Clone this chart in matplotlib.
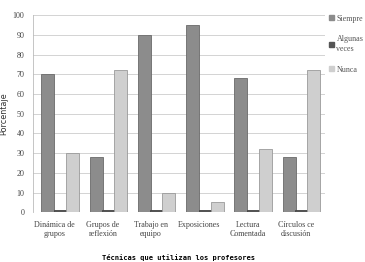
import matplotlib.pyplot as plt
from matplotlib.patches import Patch

tecnicas = ["Dinámica de\ngrupos", "Grupos de\nreflexión", "Trabajo en\nequipo",
            "Exposiciones", "Lectura\nComentada", "Círculos ce\ndiscusión"]
siempre = [70, 28, 90, 95, 68, 28]
algunas = [1, 1, 1, 1, 1, 1]
nunca = [30, 72, 10, 5, 32, 72]

plt.rcParams['font.family'] = ['Liberation Serif', 'DejaVu Serif']

fig = plt.figure(figsize=(3.65, 2.62), dpi=100)
ax = fig.add_axes([0.09, 0.19, 0.80, 0.752])

x = list(range(len(tecnicas)))
w = 0.27
ax.bar([i - 0.14 for i in x], siempre, w, color='#8c8c8c', edgecolor='#6a6a6a', linewidth=0.6, zorder=3)
ax.bar([i + 0.12 for i in x], algunas, w, color='#555555', edgecolor='#444444', linewidth=0.6, zorder=3)
ax.bar([i + 0.37 for i in x], nunca, w, color='#cfcfcf', edgecolor='#9a9a9a', linewidth=0.6, zorder=3)

ax.set_xlim(-0.45, 5.6)
ax.set_ylim(0, 100)
ax.set_yticks(range(0, 101, 10))
ax.set_xticks(x)
ax.set_xticklabels(tecnicas, fontsize=5.8, color='#444444')
ax.tick_params(axis='y', labelsize=5.8, colors='#444444', length=0, pad=6)
ax.tick_params(axis='x', length=0, pad=6)
ax.grid(axis='y', color='#cccccc', linewidth=0.6, zorder=0)
for s in ['top', 'right', 'bottom']:
    ax.spines[s].set_visible(False)
ax.spines['left'].set_color('#bbbbbb')
ax.spines['left'].set_linewidth(0.6)

ax.set_ylabel("Porcentaje", fontsize=5.8, color='#333333', family=['DejaVu Sans'], labelpad=3)
ax.set_xlabel("Técnicas que utilizan los profesores", fontsize=5, fontweight='bold',
              family=['DejaVu Sans Mono'], labelpad=12)

handles = [Patch(color='#8c8c8c'), Patch(color='#555555'), Patch(color='#cfcfcf')]
ax.legend(handles, ["Siempre", "Algunas\nveces", "Nunca"], loc='upper left',
          bbox_to_anchor=(0.99, 1.04), frameon=False, fontsize=5.8,
          handlelength=0.6, handleheight=0.6, handletextpad=0.3, labelspacing=1.6,
          labelcolor='#555555')

fig.savefig('out.png', dpi=100)
